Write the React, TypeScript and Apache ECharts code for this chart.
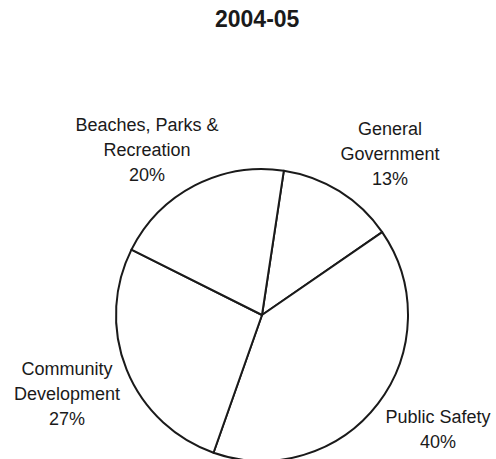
import React, { useEffect, useRef } from "react";
import * as echarts from "echarts";

const title = "2004-05";
const categories = ["General\nGovernment", "Public Safety", "Community\nDevelopment", "Beaches, Parks &\nRecreation"];
const values = [13, 40, 27, 20];
// label block centers (layout only)
const labelPos = [
  [390, 153.5],
  [438, 429],
  [67, 394],
  [147, 150],
];

const FONT = "Liberation Sans, Arial, Helvetica, sans-serif";

export default function App() {
  const ref = useRef<HTMLDivElement>(null);
  useEffect(() => {
    const chart = echarts.init(ref.current!, null, { renderer: "svg" });
    chart.setOption({
      animation: false,
      backgroundColor: "#ffffff",
      title: {
        text: title,
        left: 215,
        top: 7,
        padding: 0,
        textStyle: { fontFamily: FONT, fontSize: 23, fontWeight: "bold", color: "#1a1a1a" },
      },
      series: [
        {
          type: "pie",
          center: [262, 315],
          radius: [0, 146],
          startAngle: 81.4,
          clockwise: true,
          silent: true,
          data: categories.map((c, i) => ({ name: c, value: values[i] })),
          itemStyle: { color: "#ffffff", borderColor: "#1a1a1a", borderWidth: 2 },
          label: {
            show: true,
            position: "outside",
            formatter: "{b}\n{d}%",
            fontFamily: FONT,
            fontSize: 18,
            lineHeight: 25,
            color: "#1a1a1a",
            align: "center",
            overflow: "none",
          },
          labelLine: { show: false },
          labelLayout: (p: any) => ({
            x: labelPos[p.dataIndex][0],
            y: labelPos[p.dataIndex][1],
            align: "center",
            verticalAlign: "middle",
            hideOverlap: false,
          }),
        },
      ],
    });
    return () => chart.dispose();
  }, []);
  return <div ref={ref} style={{ position: "fixed", left: 0, top: 0, width: 496, height: 459 }} />;
}
